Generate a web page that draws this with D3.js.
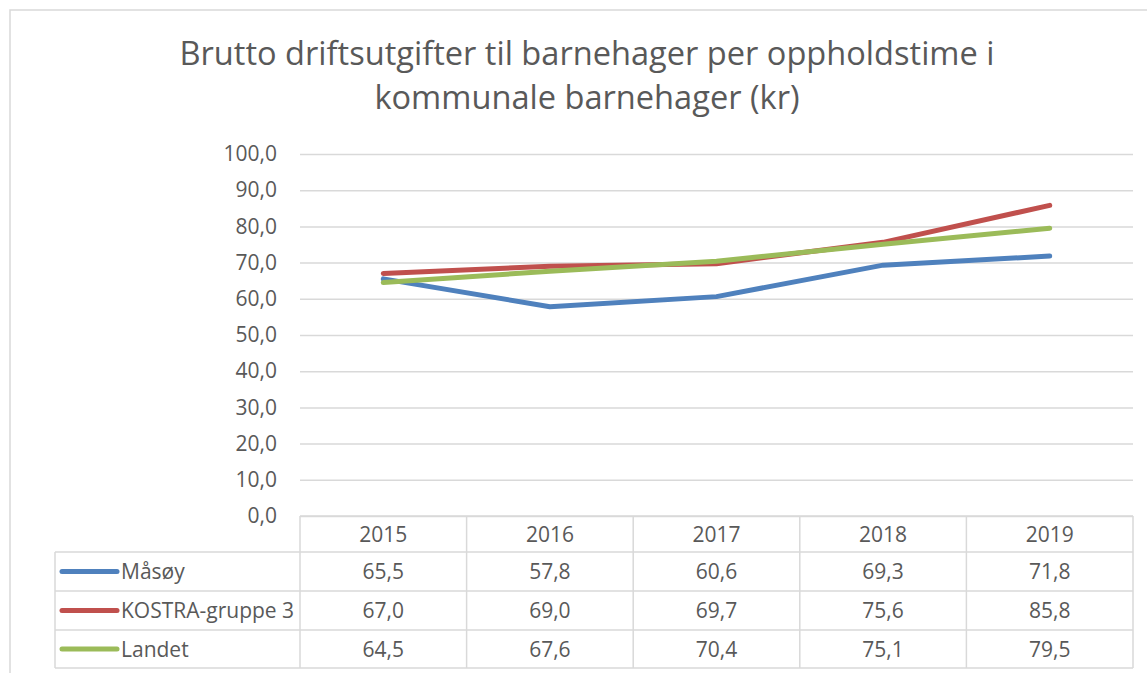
<!DOCTYPE html>
<html>
<head>
<meta charset="utf-8">
<script src="https://cdn.jsdelivr.net/npm/d3@7"></script>
<style>
  body { margin: 0; background: white; }
  text { font-family: "Open Sans", sans-serif; fill: #595959; }
</style>
</head>
<body>
<div id="chart"></div>
<script>
// Chart data
const years = ["2015", "2016", "2017", "2018", "2019"];
const seriesNames = ["Måsøy", "KOSTRA-gruppe 3", "Landet"];
const masoy = [65.5, 57.8, 60.6, 69.3, 71.8];
const kostra = [67.0, 69.0, 69.7, 75.6, 85.8];
const landet = [64.5, 67.6, 70.4, 75.1, 79.5];
const yTicks = [0, 10, 20, 30, 40, 50, 60, 70, 80, 90, 100];
const titleLines = ["Brutto driftsutgifter til barnehager per oppholdstime i", "kommunale barnehager (kr)"];

const colors = ["#4f81bd", "#c0504d", "#9bbb59"];
const series = [masoy, kostra, landet];

const width = 1147, height = 673;
const plot = { left: 300, right: 1133, top: 154, bottom: 516 };
const tableLeft = 55;
const rowEdges = [516, 552, 591, 630, 668];

const fmt = v => d3.format(".1f")(v).replace(".", ",");

const svg = d3.select("#chart").append("svg")
  .attr("width", width)
  .attr("height", height);

// outer frame (left + top edges visible)
svg.append("path")
  .attr("d", `M10,${height} L10,10 L${width},10`)
  .attr("fill", "none")
  .attr("stroke", "#d9d9d9")
  .attr("stroke-width", 1.5);

// Title
svg.append("text")
  .attr("text-anchor", "middle")
  .style("font-size", "32.6px")
  .selectAll("tspan")
  .data(titleLines)
  .enter().append("tspan")
  .attr("x", 587)
  .attr("y", (d, i) => 65 + i * 44)
  .text(d => d);

// Scales
const x = d3.scaleBand().domain(years).range([plot.left, plot.right]);
const y = d3.scaleLinear().domain([0, 100]).range([plot.bottom, plot.top]);

// Gridlines
const grid = svg.append("g")
  .attr("transform", `translate(${plot.left},0)`)
  .call(d3.axisLeft(y).tickValues(yTicks).tickSize(-(plot.right - plot.left)).tickFormat(""));
grid.select(".domain").remove();
grid.selectAll("line").attr("stroke", "#d9d9d9").attr("stroke-width", 1.5);

// Y axis labels
const yAxis = svg.append("g")
  .attr("transform", `translate(277,0)`)
  .call(d3.axisLeft(y).tickValues(yTicks).tickSize(0).tickPadding(0).tickFormat(fmt));
yAxis.select(".domain").remove();
yAxis.selectAll("text")
  .attr("fill", "#595959")
  .style("font-family", "'Open Sans', sans-serif")
  .style("font-size", "21px");

// Data table grid
const tg = svg.append("g").attr("stroke", "#d9d9d9").attr("stroke-width", 1.5);
rowEdges.forEach((ry, i) => {
  tg.append("line")
    .attr("x1", i === 0 ? plot.left : tableLeft).attr("x2", plot.right)
    .attr("y1", ry).attr("y2", ry);
});
tg.append("line").attr("x1", tableLeft).attr("x2", tableLeft)
  .attr("y1", rowEdges[1]).attr("y2", rowEdges[4]);
years.forEach(yr => {
  tg.append("line").attr("x1", x(yr)).attr("x2", x(yr))
    .attr("y1", rowEdges[0]).attr("y2", rowEdges[4]);
});
tg.append("line").attr("x1", plot.right).attr("x2", plot.right)
  .attr("y1", rowEdges[0]).attr("y2", rowEdges[4]);

const rowMid = i => (rowEdges[i] + rowEdges[i + 1]) / 2;

// header years
svg.append("g").selectAll("text")
  .data(years).enter().append("text")
  .attr("x", d => x(d) + x.bandwidth() / 2)
  .attr("y", rowMid(0))
  .attr("dy", "0.36em")
  .attr("text-anchor", "middle")
  .style("font-size", "21px")
  .text(d => d);

// value rows + legend keys
series.forEach((vals, si) => {
  const row = svg.append("g");
  row.append("line")
    .attr("x1", 62).attr("x2", 117)
    .attr("y1", rowMid(si + 1)).attr("y2", rowMid(si + 1))
    .attr("stroke", colors[si])
    .attr("stroke-width", 5)
    .attr("stroke-linecap", "round");
  row.append("text")
    .attr("x", 121)
    .attr("y", rowMid(si + 1))
    .attr("dy", "0.36em")
    .style("font-size", "21px")
    .text(seriesNames[si]);
  row.selectAll("text.v")
    .data(vals).enter().append("text")
    .attr("class", "v")
    .attr("x", (d, i) => x(years[i]) + x.bandwidth() / 2)
    .attr("y", rowMid(si + 1))
    .attr("dy", "0.36em")
    .attr("text-anchor", "middle")
    .style("font-size", "21px")
    .text(d => fmt(d));
});

// Lines
const line = d3.line()
  .x((d, i) => x(years[i]) + x.bandwidth() / 2)
  .y(d => y(d));

series.forEach((vals, si) => {
  svg.append("path")
    .datum(vals)
    .attr("fill", "none")
    .attr("stroke", colors[si])
    .attr("stroke-width", 5)
    .attr("stroke-linecap", "round")
    .attr("stroke-linejoin", "round")
    .attr("d", line);
});
</script>
</body>
</html>
